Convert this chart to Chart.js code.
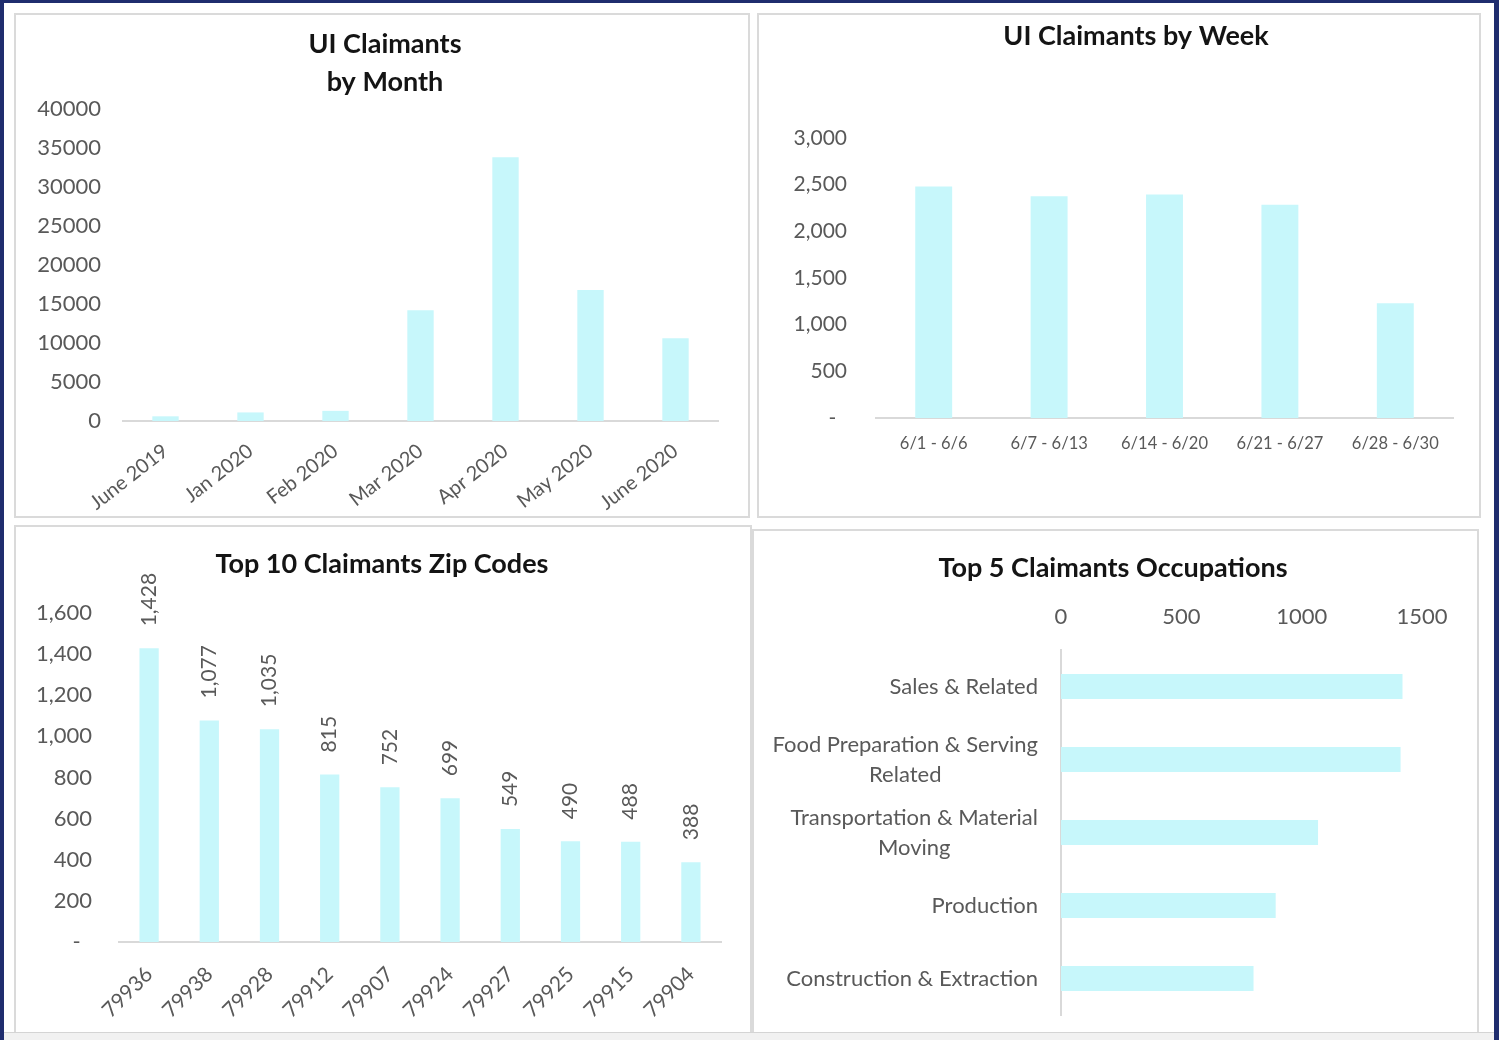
<!DOCTYPE html>
<html>
<head>
<meta charset="utf-8">
<script src="https://cdn.jsdelivr.net/npm/chart.js@4.4.1/dist/chart.umd.min.js"></script>
<style>
html,body{margin:0;padding:0;}
body{width:1499px;height:1040px;background:#1f2d6e;position:relative;overflow:hidden;font-family:Lato,sans-serif;}
#page{position:absolute;left:4px;top:3px;width:1490px;height:1037px;background:#fff;}
#strip{position:absolute;left:4px;top:1032px;width:1490px;height:8px;background:#f1f1f1;border-top:1px solid #d4d4d4;box-sizing:border-box;z-index:5;}
.panel{position:absolute;border:2px solid #dadada;background:#fff;box-sizing:border-box;overflow:hidden;}
.panel canvas{position:absolute;left:0;top:0;}
</style>
</head>
<body>
<div id="page"></div>
<div class="panel" style="left:14px;top:13px;width:736px;height:505px;"><canvas id="c1" width="738" height="501"></canvas></div>
<div class="panel" style="left:757px;top:13px;width:724px;height:505px;"><canvas id="c2" width="754" height="501"></canvas></div>
<div class="panel" style="left:14px;top:525px;width:738px;height:510px;"><canvas id="c3" width="732" height="506"></canvas></div>
<div class="panel" style="left:752px;top:529px;width:727px;height:506px;"><canvas id="c4" width="718" height="502"></canvas></div>
<div id="strip"></div>
<script>
// ---------- DATA ----------
const monthLabels = ['June 2019', 'Jan 2020', 'Feb 2020', 'Mar 2020', 'Apr 2020', 'May 2020', 'June 2020'];
const monthValues = [600, 1100, 1300, 14200, 33800, 16800, 10600];
const monthTicks = [0, 5000, 10000, 15000, 20000, 25000, 30000, 35000, 40000];

const weekLabels = ['6/1 - 6/6', '6/7 - 6/13', '6/14 - 6/20', '6/21 - 6/27', '6/28 - 6/30'];
const weekValues = [2480, 2375, 2395, 2285, 1230];
const weekTicks = [0, 500, 1000, 1500, 2000, 2500, 3000];

const zipLabels = ['79936', '79938', '79928', '79912', '79907', '79924', '79927', '79925', '79915', '79904'];
const zipValues = [1428, 1077, 1035, 815, 752, 699, 549, 490, 488, 388];
const zipTicks = [0, 200, 400, 600, 800, 1000, 1200, 1400, 1600];

const occupationLabels = [
  ['Sales & Related'],
  ['Food Preparation & Serving', 'Related'],
  ['Transportation & Material', 'Moving'],
  ['Production'],
  ['Construction & Extraction']
];
const occupationValues = [1419, 1411, 1068, 892, 800];
const occupationTicks = [0, 500, 1000, 1500];

// ---------- STYLE ----------
const FONT = 'Lato, "Open Sans", sans-serif';
const BAR = '#c7f7fb';
const AXIS = '#d9d9d9';
const TICK = '#595959';
const TITLE = '#141414';

const fmtComma = v => v === 0 ? '-  ' : Number(v).toLocaleString('en-US');
const fmtPlain = v => String(v);
const setTicks = arr => s => { s.ticks = arr.map(v => ({ value: v })); };
const noGrid = { display: false, drawTicks: false };
const common = { responsive: false, animation: false, events: [] };
const titleFont = lh => ({ family: FONT, size: 27, weight: 'bold', lineHeight: lh });
// empty right-hand spacer scale so the title stays centred on the canvas
const spacer = w => ({ type: 'linear', position: 'right', display: true, grid: noGrid, border: { display: false },
  ticks: { display: false }, afterFit: s => { s.width = w; } });

// ---------- CHART 1 ----------
new Chart(document.getElementById('c1'), {
  type: 'bar',
  data: { labels: monthLabels, datasets: [{ data: monthValues, backgroundColor: BAR, barPercentage: 0.31, categoryPercentage: 1 }] },
  options: Object.assign({}, common, {
    layout: { padding: 0 },
    plugins: {
      legend: { display: false }, tooltip: { enabled: false },
      title: { display: true, text: ['UI Claimants', 'by Month'], color: TITLE,
        font: titleFont('38px'), padding: { top: 10, bottom: 8 } }
    },
    scales: {
      x: { grid: noGrid, border: { display: true, color: AXIS, width: 2 },
        ticks: { color: TICK, font: { family: FONT, size: 20 }, minRotation: 38, maxRotation: 38, autoSkip: false, padding: 18 },
        afterFit: s => { s.height = 95; } },
      y: { min: 0, max: 40000, grid: noGrid, border: { display: false },
        ticks: { color: TICK, font: { family: FONT, size: 22 }, padding: 22, callback: fmtPlain },
        afterBuildTicks: setTicks(monthTicks),
        afterFit: s => { s.width = 107; } },
      spacer: spacer(36)
    }
  })
});

// ---------- CHART 2 ----------
new Chart(document.getElementById('c2'), {
  type: 'bar',
  data: { labels: weekLabels, datasets: [{ data: weekValues, backgroundColor: BAR, barPercentage: 0.32, categoryPercentage: 1 }] },
  options: Object.assign({}, common, {
    layout: { padding: 0 },
    plugins: {
      legend: { display: false }, tooltip: { enabled: false },
      title: { display: true, text: 'UI Claimants by Week', color: TITLE,
        font: titleFont('29px'), padding: { top: 6.5, bottom: 87.5 } }
    },
    scales: {
      x: { grid: noGrid, border: { display: true, color: AXIS, width: 2 },
        ticks: { color: TICK, font: { family: FONT, size: 16.5 }, minRotation: 0, maxRotation: 0, autoSkip: false, padding: 16 },
        afterFit: s => { s.height = 98; } },
      y: { min: 0, max: 3000, grid: noGrid, border: { display: false },
        ticks: { color: TICK, font: { family: FONT, size: 21 }, padding: 29, callback: fmtComma },
        afterBuildTicks: setTicks(weekTicks),
        afterFit: s => { s.width = 117; } },
      spacer: spacer(60)
    }
  })
});

// ---------- CHART 3 ----------
const zipDataLabels = {
  id: 'zipDataLabels',
  afterDatasetsDraw(chart) {
    const ctx = chart.ctx;
    const meta = chart.getDatasetMeta(0);
    ctx.save();
    ctx.font = '21px ' + FONT;
    ctx.fillStyle = TICK;
    ctx.textAlign = 'left';
    ctx.textBaseline = 'middle';
    meta.data.forEach((bar, i) => {
      ctx.save();
      ctx.translate(bar.x, bar.y - 22);
      ctx.rotate(-Math.PI / 2);
      ctx.fillText(Number(zipValues[i]).toLocaleString('en-US'), 0, 0);
      ctx.restore();
    });
    ctx.restore();
  }
};
new Chart(document.getElementById('c3'), {
  type: 'bar',
  data: { labels: zipLabels, datasets: [{ data: zipValues, backgroundColor: BAR, barPercentage: 0.32, categoryPercentage: 1 }] },
  plugins: [zipDataLabels],
  options: Object.assign({}, common, {
    layout: { padding: 0 },
    plugins: {
      legend: { display: false }, tooltip: { enabled: false },
      title: { display: true, text: 'Top 10 Claimants Zip Codes', color: TITLE,
        font: titleFont('29px'), padding: { top: 22.5, bottom: 34.5 } }
    },
    scales: {
      x: { grid: noGrid, border: { display: true, color: AXIS, width: 2 },
        ticks: { color: TICK, font: { family: FONT, size: 21 }, minRotation: 45, maxRotation: 45, autoSkip: false, padding: 20 },
        afterFit: s => { s.height = 91; } },
      y: { min: 0, max: 1600, grid: noGrid, border: { display: false },
        ticks: { color: TICK, font: { family: FONT, size: 22 }, padding: 27, callback: fmtComma },
        afterBuildTicks: setTicks(zipTicks),
        afterFit: s => { s.width = 103; } },
      spacer: spacer(27)
    }
  })
});

// ---------- CHART 4 ----------
const occLabelsPlugin = {
  id: 'occLabels',
  afterDraw(chart) {
    const ctx = chart.ctx;
    const s = chart.scales.y;
    ctx.save();
    ctx.font = '22px ' + FONT;
    ctx.fillStyle = TICK;
    ctx.textAlign = 'center';
    ctx.textBaseline = 'middle';
    occupationLabels.forEach((lines, i) => {
      const yc = s.getPixelForTick(i);
      const w = Math.max(...lines.map(l => ctx.measureText(l).width));
      const xc = chart.chartArea.left - 23 - w / 2;
      lines.forEach((ln, j) => {
        ctx.fillText(ln, xc, yc + (j - (lines.length - 1) / 2) * 30);
      });
    });
    ctx.restore();
  }
};
new Chart(document.getElementById('c4'), {
  type: 'bar',
  data: { labels: occupationLabels, datasets: [{ data: occupationValues, backgroundColor: BAR, barPercentage: 0.34, categoryPercentage: 1 }] },
  plugins: [occLabelsPlugin],
  options: Object.assign({}, common, {
    indexAxis: 'y',
    layout: { padding: { left: 0, right: 0, top: 0, bottom: 18 } },
    plugins: {
      legend: { display: false }, tooltip: { enabled: false },
      title: { display: true, text: 'Top 5 Claimants Occupations', color: TITLE,
        font: titleFont('29px'), padding: { top: 22.5, bottom: 5 } }
    },
    scales: {
      x: { position: 'top', min: 0, max: 1500, grid: noGrid, border: { display: false },
        ticks: { color: TICK, font: { family: FONT, size: 22 }, padding: 20, maxRotation: 0, callback: fmtPlain },
        afterBuildTicks: setTicks(occupationTicks),
        afterFit: s => { s.height = 62.5; } },
      y: { grid: noGrid, border: { display: true, color: AXIS, width: 2 },
        ticks: { display: false },
        afterFit: s => { s.width = 307; } },
      spacer: spacer(50)
    }
  })
});
</script>
</body>
</html>
